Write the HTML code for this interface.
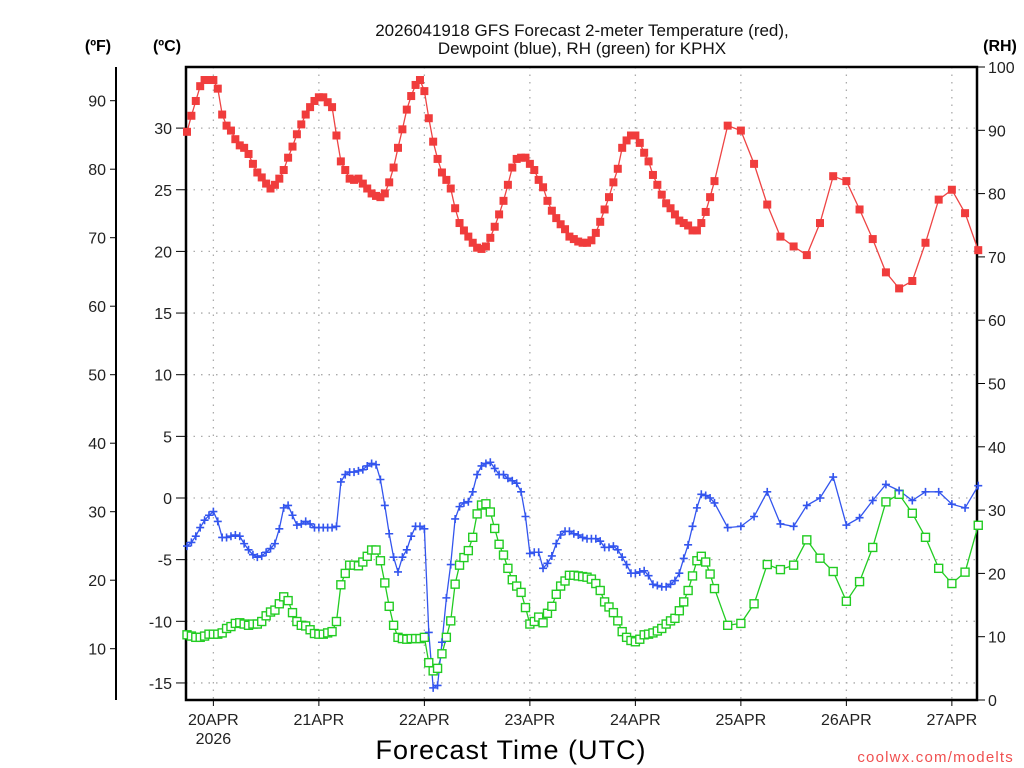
<!DOCTYPE html>
<html><head><meta charset="utf-8"><style>
html,body{margin:0;padding:0;background:#fff;}
svg{display:block;font-family:"Liberation Sans",sans-serif;}
</style></head><body>
<svg id="chart" width="1024" height="768" viewBox="0 0 1024 768" xmlns="http://www.w3.org/2000/svg">
<g id="grid"></g>
<g id="axes"></g>
<g id="series"></g>
<text x="582" y="36" text-anchor="middle" font-size="17" fill="#111">2026041918 GFS Forecast 2-meter Temperature (red),</text>
<text x="582" y="54" text-anchor="middle" font-size="17" fill="#111">Dewpoint (blue), RH (green) for KPHX</text>
<text x="98" y="51" text-anchor="middle" font-size="16" font-weight="bold" fill="#000">(ºF)</text>
<text x="167" y="51" text-anchor="middle" font-size="16" font-weight="bold" fill="#000">(ºC)</text>
<text x="1000" y="51" text-anchor="middle" font-size="16" font-weight="bold" fill="#000">(RH)</text>
<text x="511" y="759" text-anchor="middle" font-size="27" fill="#000" letter-spacing="1">Forecast Time (UTC)</text>
<text x="1014" y="762" text-anchor="end" font-size="15" fill="#f05050" letter-spacing="1.2">coolwx.com/modelts</text>
</svg>
<script>
const temps = [29.7,31.0,32.2,33.4,33.9,33.9,33.9,33.2,31.1,30.2,29.8,29.1,28.6,28.4,27.9,27.1,26.4,26.0,25.5,25.1,25.4,25.9,26.6,27.6,28.5,29.5,30.3,31.1,31.7,32.2,32.5,32.5,32.1,31.7,29.4,27.3,26.6,25.9,25.8,25.9,25.5,25.1,24.7,24.5,24.4,24.7,25.6,26.8,28.4,29.9,31.5,32.6,33.5,33.9,33.0,30.8,28.9,27.5,26.4,25.8,25.1,23.5,22.3,
21.7,21.2,20.7,20.3,20.2,20.4,21.1,22.0,23.0,24.1,25.4,26.8,27.5,27.6,27.6,27.1,26.6,25.8,25.2,24.1,23.3,22.7,22.2,21.8,21.2,21.0,20.8,20.7,20.7,20.9,21.5,22.4,23.4,24.4,25.6,26.7,28.4,29.0,29.4,29.4,28.8,28.0,27.3,26.2,25.4,24.6,23.9,23.5,23.0,22.5,22.3,22.1,21.7,21.7,22.3,23.2,24.4,25.7,
30.2,29.8,27.1,23.8,21.2,20.4,19.7,22.3,26.1,25.7,23.4,21.0,18.3,17.0,17.6,20.7,24.2,25.0,23.1,20.1];
const dewpoints = [-3.9,-3.6,-3.1,-2.4,-1.8,-1.4,-1.1,-1.9,-3.2,-3.2,-3.1,-3.0,-3.1,-3.7,-4.2,-4.6,-4.8,-4.7,-4.4,-4.1,-3.7,-2.5,-0.8,-0.6,-1.4,-2.2,-2.1,-1.9,-2.1,-2.4,-2.4,-2.4,-2.4,-2.4,-2.3,1.3,1.9,2.1,2.1,2.2,2.3,2.6,2.8,2.7,1.5,-0.6,-2.9,-4.8,-6.0,-4.8,-4.2,-3.1,-2.3,-2.3,-2.5,-10.9,-15.4,-15.2,-11.7,-8.1,-5.4,-1.7,-0.7,
-0.4,-0.3,0.5,1.9,2.6,2.8,2.9,2.4,1.9,1.9,1.6,1.4,1.2,0.5,-1.5,-4.5,-4.4,-4.4,-5.7,-5.3,-4.7,-3.7,-3.0,-2.7,-2.7,-2.9,-3.0,-3.2,-3.3,-3.3,-3.3,-3.5,-4.0,-4.0,-3.9,-4.2,-4.8,-5.4,-6.1,-6.1,-6.0,-5.9,-6.3,-7.0,-7.1,-7.2,-7.2,-7.0,-6.7,-6.1,-4.9,-3.8,-2.3,-0.8,0.3,0.2,0.0,-0.4,
-2.4,-2.3,-1.5,0.5,-2.1,-2.3,-0.6,0.0,1.7,-2.2,-1.6,-0.2,1.1,0.6,-0.2,0.5,0.5,-0.5,-0.8,1.0];
const rhValues = [10.3,10.1,9.9,9.9,10.1,10.4,10.4,10.4,10.6,11.3,11.6,12.1,12.2,12.0,11.8,12.0,12.0,12.4,13.3,13.9,14.2,15.2,16.3,15.7,13.8,12.4,11.8,11.7,11.1,10.5,10.4,10.4,10.6,10.8,12.4,18.2,20.0,21.3,21.3,21.2,21.8,22.7,23.7,23.7,22.0,18.5,14.8,11.8,9.9,9.7,9.6,9.7,9.7,9.7,9.9,5.9,4.6,5.0,7.3,9.9,12.5,18.3,21.3,
22.5,23.6,25.7,29.4,30.8,31.0,29.7,27.1,24.6,22.9,20.8,19.0,18.0,17.0,14.6,12.0,12.4,13.1,12.2,13.7,14.8,16.7,18.0,18.8,19.7,19.7,19.6,19.5,19.4,19.1,18.4,17.3,15.5,14.7,13.8,12.5,10.8,9.9,9.4,9.2,9.6,10.3,10.4,10.6,10.9,11.3,12.0,12.5,12.9,14.1,15.5,17.3,19.6,22.0,22.7,21.8,19.9,17.6,
11.8,12.1,15.2,21.4,20.6,21.3,25.3,22.4,20.3,15.6,18.7,24.1,31.3,32.5,29.5,25.7,20.8,18.4,20.2,27.6];
const dayLabels = ["20APR","21APR","22APR","23APR","24APR","25APR","26APR","27APR"];
const fTicks = [10,20,30,40,50,60,70,80,90];
const cTicks = [-15,-10,-5,0,5,10,15,20,25,30];
const rhTicks = [0,10,20,30,40,50,60,70,80,90,100];
const hourlyEnd = 120, step3End = 180;

const NS="http://www.w3.org/2000/svg";
const L=186,R=977,T=67,B=700;
const xOf=h=>187+h*4.3958;
const yC=c=>498-12.33*c;
const yF=f=>yC((f-32)*5/9);
const yRH=r=>700-6.33*r;
const hours=[];for(let h=0;h<=hourlyEnd;h++)hours.push(h);for(let h=hourlyEnd+3;h<=step3End;h+=3)hours.push(h);
function mk(tag,attrs,parent,txt){const e=document.createElementNS(NS,tag);for(const k in attrs)e.setAttribute(k,attrs[k]);if(txt!==undefined)e.textContent=txt;parent.appendChild(e);return e;}
const grid=document.getElementById('grid'),axes=document.getElementById('axes'),series=document.getElementById('series');
// grid
cTicks.forEach(c=>{const l=mk('line',{x1:L,x2:R,y1:yC(c),y2:yC(c),stroke:'#aaa','stroke-width':1.3,'stroke-dasharray':'1.5 6'},grid);

});
dayLabels.forEach((d,i)=>{const x=xOf(6+24*i);const l=mk('line',{x1:x,x2:x,y1:T,y2:B,stroke:'#aaa','stroke-width':1.3,'stroke-dasharray':'1.5 6'},grid);


const t=mk('line',{x1:x,x2:x,y1:B,y2:B+6,stroke:'#000','stroke-width':1},axes);


const lb=mk('text',{x:x,y:725,'text-anchor':'middle','font-size':16,fill:'#222'},axes,d);

});
const yr=mk('text',{x:xOf(6),y:744,'text-anchor':'middle','font-size':16,fill:'#222'},axes,'2026');


// frame
const fr=mk('rect',{x:L,y:T,width:R-L,height:B-T,fill:'none',stroke:'#000','stroke-width':2.5},axes);


const fa=mk('line',{x1:116,x2:116,y1:T,y2:B,stroke:'#000','stroke-width':2},axes);


fTicks.forEach(f=>{const y=yF(f);mk('line',{x1:110,x2:116,y1:y,y2:y,stroke:'#000'},axes);
const t=mk('text',{x:106,y:y+6,'text-anchor':'end','font-size':16,fill:'#222'},axes,f);

});
cTicks.forEach(c=>{const y=yC(c);mk('line',{x1:176,x2:L,y1:y,y2:y,stroke:'#000'},axes);
const t=mk('text',{x:172,y:y+6,'text-anchor':'end','font-size':16,fill:'#222'},axes,c);

});
rhTicks.forEach(r=>{const y=yRH(r);mk('line',{x1:R,x2:R+8,y1:y,y2:y,stroke:'#000'},axes);
const t=mk('text',{x:988,y:y+6,'text-anchor':'start','font-size':16,fill:'#222'},axes,r);

});
// series
function line(vals,yf,color,name){const pts=vals.map((v,i)=>xOf(hours[i]).toFixed(1)+','+yf(v).toFixed(1)).join(' ');
const p=mk('polyline',{points:pts,fill:'none',stroke:color,'stroke-width':1.3},series);

}
line(rhValues,yRH,'#22cc22','rh-line');
line(dewpoints,yC,'#3355ee','dewpoint-line');
line(temps,yC,'#ee4444','temperature-line');
rhValues.forEach((v,i)=>{const r=mk('rect',{x:xOf(hours[i])-4,y:yRH(v)-4,width:8,height:8,fill:'#fff',stroke:'#22cc22','stroke-width':1.4},series);

});
dewpoints.forEach((v,i)=>{const x=xOf(hours[i]),y=yC(v);const p=mk('path',{d:`M${x-4},${y}H${x+4}M${x},${y-4}V${y+4}`,stroke:'#3355ee','stroke-width':1.6},series);

});
temps.forEach((v,i)=>{const r=mk('rect',{x:xOf(hours[i])-4,y:yC(v)-4,width:8,height:8,fill:'#f03c3c'},series);

});
</script>
</body></html>
